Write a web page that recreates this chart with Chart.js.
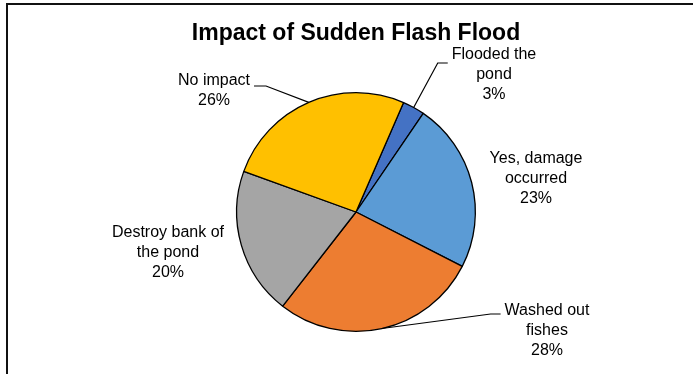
<!DOCTYPE html>
<html lang="en">
<head>
<meta charset="UTF-8">
<title>Impact of Sudden Flash Flood</title>
<script src="https://cdn.jsdelivr.net/npm/chart.js"></script>
<style>
    html, body { margin: 0; padding: 0; background: #fff; }
    .frame {
        position: absolute; left: 6px; top: 3px; width: 687px; height: 371px;
        border-top: 2px solid #111; border-left: 2px solid #111; box-sizing: border-box;
    }
    .chart-box { position: absolute; left: 0; top: 0; width: 693px; height: 374px; }
</style>
</head>
<body>
<div class="frame"></div>
<div class="chart-box"><canvas id="floodChart" width="693" height="374"></canvas></div>

<script>
// Survey answers, clockwise from the first slice
const categories = ['Flooded the pond', 'Yes, damage occurred', 'Washed out fishes', 'Destroy bank of the pond', 'No impact'];
const shares = [3, 23, 28, 20, 26];
// category names wrapped the way they are printed next to the pie
const labelLines = [
    ['Flooded the', 'pond'],
    ['Yes, damage', 'occurred'],
    ['Washed out', 'fishes'],
    ['Destroy bank of', 'the pond'],
    ['No impact']
];

const sliceColors = ['#4472C4', '#5B9BD5', '#ED7D31', '#A5A5A5', '#FFC000'];

// label placement relative to the pie centre (dx, dy of the first line),
// plus which side the leader line meets the text and its vertical offset
const labelLayout = [
    { dx: 138, dy: -157, leader: 'left', leaderDy: 8 },
    { dx: 180, dy: -53, leader: null },
    { dx: 191, dy: 99, leader: 'left', leaderDy: 3 },
    { dx: -188, dy: 21, leader: null },
    { dx: -142, dy: -131, leader: 'right', leaderDy: 5 }
];

const FONT = '"Liberation Sans", Arial, sans-serif';

const pieLabels = {
    id: 'pieLabels',
    afterDatasetsDraw(chart) {
        const ctx = chart.ctx;
        const meta = chart.getDatasetMeta(0);
        ctx.save();

        // title
        ctx.fillStyle = '#000';
        ctx.font = 'bold 23px ' + FONT;
        ctx.textAlign = 'center';
        ctx.textBaseline = 'middle';
        ctx.fillText('Impact of Sudden Flash Flood', 356, 34);

        ctx.font = '16px ' + FONT;
        const lineH = 20;
        meta.data.forEach((arc, i) => {
            const p = arc.getProps(['x', 'y', 'startAngle', 'endAngle', 'outerRadius'], true);
            const lay = labelLayout[i];
            const cx = p.x + lay.dx;
            const cy = p.y + lay.dy;
            const lines = labelLines[i].concat([shares[i] + '%']);

            lines.forEach((t, k) => ctx.fillText(t, cx, cy + k * lineH));

            if (lay.leader) {
                const w = ctx.measureText(lines[0]).width;
                const mid = (p.startAngle + p.endAngle) / 2;
                const ex = p.x + Math.cos(mid) * p.outerRadius;
                const ey = p.y + Math.sin(mid) * p.outerRadius;
                const ly = cy + lay.leaderDy;
                const sx = lay.leader === 'left' ? cx - w / 2 - 4 : cx + w / 2 + 4;
                const kx = lay.leader === 'left' ? sx - 10 : sx + 12;
                ctx.strokeStyle = '#000';
                ctx.lineWidth = 1.2;
                ctx.beginPath();
                ctx.moveTo(sx, ly);
                ctx.lineTo(kx, ly);
                ctx.lineTo(ex, ey);
                ctx.stroke();
            }
        });
        ctx.restore();
    }
};

new Chart(document.getElementById('floodChart'), {
    type: 'pie',
    data: {
        labels: categories,
        datasets: [{
            data: shares,
            backgroundColor: sliceColors,
            borderColor: '#000',
            borderWidth: 1.3
        }]
    },
    options: {
        responsive: false,
        animation: false,
        rotation: 23.5,
        layout: { padding: { left: 236, right: 217, top: 92, bottom: 42 } },
        plugins: {
            legend: { display: false },
            tooltip: { enabled: false }
        }
    },
    plugins: [pieLabels]
});
</script>
</body>
</html>
